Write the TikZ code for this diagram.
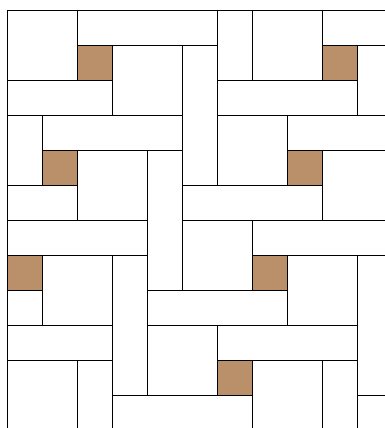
\documentclass[tikz,border=0pt]{standalone}
\definecolor{tilebrown}{RGB}{185,144,106}
\begin{document}
\begin{tikzpicture}[x=1cm,y=-1cm,
  tile/.style={draw=black,line width=1.6pt,fill=white},
  browntile/.style={draw=black,line width=1.6pt,fill=tilebrown}]
\useasboundingbox (-0.2143,-0.3) rectangle (10.786,11.929);
\begin{scope}
\clip (0,0) rectangle (11.5,12.5);
\foreach \m in {-2,...,3}{
  \foreach \n in {-2,...,5}{
    \pgfmathtruncatemacro\a{2+7*\m-\n}
    \pgfmathtruncatemacro\b{1+3*\n}
    % brown square
    \draw[browntile] (\a,\b) rectangle ++(1,1);
    % white square A
    \draw[tile] (\a+1,\b) rectangle ++(2,2);
    % white square B
    \draw[tile] (\a-2,\b-1) rectangle ++(2,2);
    % horizontal bar on top
    \draw[tile] (\a,\b-1) rectangle ++(4,1);
    % vertical bar
    \draw[tile] (\a+3,\b) rectangle ++(1,4);
    % horizontal bar left
    \draw[tile] (\a-3,\b+1) rectangle ++(4,1);
  }
}
\end{scope}
\draw[line width=1.6pt] (0,12.5) -- (0,0) -- (11.5,0);
\end{tikzpicture}
\end{document}
